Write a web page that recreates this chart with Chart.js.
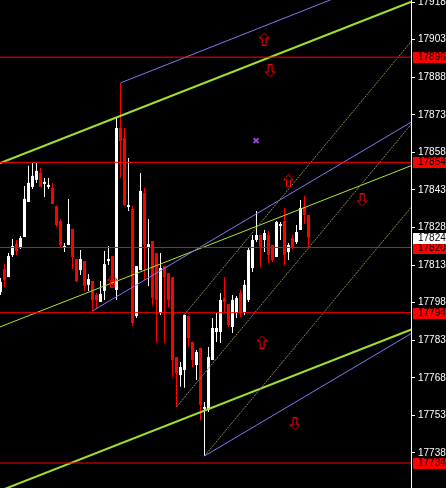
<!DOCTYPE html>
<html>
<head>
<meta charset="utf-8">
<title>Chart</title>
<script src="https://cdn.jsdelivr.net/npm/chart.js@4.4.1/dist/chart.umd.min.js"></script>
<style>
  html, body { margin: 0; padding: 0; background: #000; }
</style>
</head>
<body>
<canvas id="chart" width="446" height="488"></canvas>
<script>
// candles, one per bar index
const opens = [17802.3, 17811.4, 17808.2, 17817.0, 17821.4, 17820.2, 17824.2, 17838.2, 17844.2, 17847.0,
  17849.8, 17845.4, 17844.2, 17843.8, 17836.6, 17830.6, 17819.8, 17821.0, 17827.4, 17815.4,
  17811.0, 17814.6, 17805.1, 17806.6, 17801.1, 17798.3, 17802.7, 17814.6, 17816.6, 17803.1,
  17867.7, 17863.7, 17836.2, 17835.4, 17792.7, 17811.0, 17841.8, 17820.2, 17822.6, 17817.8,
  17793.9, 17812.6, 17809.8, 17808.2, 17776.3, 17769.1, 17771.1, 17792.7, 17782.3, 17773.1,
  17779.9, 17755.6, 17755.2, 17775.1, 17786.3, 17786.3, 17799.9, 17797.5, 17788.3, 17793.9,
  17801.9, 17794.3, 17799.1, 17811.8, 17823.0, 17825.0, 17823.0, 17825.0, 17821.0, 17816.2,
  17828.6, 17830.6, 17818.2, 17823.8, 17822.2, 17827.0, 17836.2, 17833.0];
const highs = [17807.8, 17813.4, 17817.8, 17823.4, 17823.0, 17824.6, 17844.6, 17852.6, 17853.7, 17853.7,
  17851.8, 17847.8, 17847.8, 17845.8, 17836.6, 17831.4, 17821.8, 17839.4, 17827.4, 17815.4,
  17819.0, 17814.6, 17809.4, 17806.6, 17801.9, 17806.6, 17818.6, 17820.6, 17816.6, 17871.7,
  17885.7, 17867.7, 17855.7, 17836.6, 17812.6, 17849.8, 17843.8, 17831.4, 17822.6, 17817.8,
  17817.8, 17812.6, 17809.8, 17808.2, 17776.3, 17774.3, 17793.3, 17792.7, 17782.3, 17779.1,
  17779.9, 17758.4, 17780.3, 17791.9, 17793.9, 17801.9, 17808.2, 17797.5, 17801.1, 17800.7,
  17803.1, 17807.0, 17820.2, 17825.0, 17834.6, 17825.0, 17827.0, 17826.6, 17821.0, 17830.6,
  17830.2, 17835.8, 17821.8, 17825.0, 17829.0, 17839.0, 17840.6, 17833.0];
const lows = [17801.1, 17804.3, 17808.2, 17816.2, 17817.0, 17819.4, 17824.2, 17838.2, 17843.4, 17845.8,
  17844.2, 17840.2, 17843.4, 17837.4, 17828.2, 17820.2, 17818.2, 17821.0, 17811.4, 17806.2,
  17809.0, 17802.7, 17802.7, 17794.7, 17795.5, 17798.3, 17799.1, 17813.0, 17805.1, 17799.1,
  17847.8, 17836.6, 17834.6, 17788.7, 17791.9, 17811.0, 17807.0, 17804.7, 17797.1, 17781.9,
  17793.1, 17781.9, 17796.3, 17768.3, 17756.4, 17764.4, 17764.0, 17780.3, 17772.3, 17767.1,
  17751.2, 17736.8, 17754.4, 17775.1, 17782.3, 17781.9, 17793.9, 17788.3, 17785.9, 17791.9,
  17792.3, 17793.1, 17798.3, 17810.2, 17822.2, 17812.2, 17818.2, 17813.8, 17814.2, 17816.2,
  17823.0, 17813.0, 17815.0, 17819.4, 17821.4, 17827.0, 17829.4, 17820.2];
const closes = [17806.2, 17807.0, 17816.6, 17820.6, 17818.6, 17823.8, 17839.4, 17845.8, 17848.6, 17850.6,
  17844.2, 17846.2, 17845.0, 17837.4, 17829.0, 17821.0, 17820.6, 17829.4, 17816.2, 17806.6,
  17815.4, 17804.7, 17807.4, 17799.1, 17799.1, 17801.5, 17813.4, 17815.4, 17805.8, 17867.7,
  17862.5, 17837.0, 17837.0, 17789.9, 17812.6, 17842.6, 17821.0, 17821.4, 17799.9, 17799.1,
  17811.8, 17808.2, 17799.1, 17775.1, 17769.9, 17772.3, 17793.1, 17783.9, 17775.1, 17778.3,
  17757.2, 17756.4, 17776.3, 17787.9, 17787.9, 17799.1, 17798.3, 17789.1, 17799.1, 17799.9,
  17793.9, 17805.1, 17819.0, 17823.0, 17825.0, 17819.8, 17825.8, 17817.0, 17815.0, 17830.2,
  17829.4, 17817.0, 17821.0, 17820.2, 17826.2, 17835.8, 17833.0, 17824.0];

// price axis
const tickValues = [17918, 17903, 17888, 17873, 17858, 17843, 17828, 17813, 17798, 17783, 17768, 17753, 17738];
const priceMin = 17724.03;
const priceMax = 17918.8;

// horizontal levels and current price
const levels = [17896, 17854, 17820, 17794, 17734];
const currentPrice = 17824;

// blue lines: median from the first point, parallels from the other two
const blueForkIdx = [23, 30, 51];
const blueForkPrice = [17794.7, 17885.7, 17736.8];
// blue line from the spike high
const blueTopIdx = [30, 82.4];
const blueTopPrice = [17885.7, 17918.8];
// olive pitchfork
const oliveForkIdx = [44, 46, 51];
const oliveForkPrice = [17756.4, 17793.3, 17736.8];

// green channel: two points on the upper line + width
const channelIdx = [0, 100];
const channelPrice = [17853.8, 17916.4];
const channelWidth = 130.8;

// arrows and marker
const upArrowIdx = [65.9, 72.0, 65.4, 28.0];
const upArrowPrice = [17903.2, 17846.6, 17782.3, 17806.6];
const downArrowIdx = [67.4, 90.4, 73.6];
const downArrowPrice = [17890.5, 17839.0, 17749.6];
const markIdx = [63.9];
const markPrice = [17862.7];

const colors = opens.map((o, i) => (closes[i] > o ? "#ffffff" : "#ff0000"));

function forkLines(idx, price) {
  const midI = (idx[1] + idx[2]) / 2;
  const midP = (price[1] + price[2]) / 2;
  const slope = (midP - price[0]) / (midI - idx[0]);
  const end = 112;
  return [0, 1, 2].map((k) => [
    { x: idx[k], y: price[k] },
    { x: end, y: price[k] + slope * (end - idx[k]) },
  ]);
}

function ray(idx, price) {
  const slope = (price[1] - price[0]) / (idx[1] - idx[0]);
  const end = 112;
  return [
    { x: idx[0], y: price[0] },
    { x: end, y: price[0] + slope * (end - idx[0]) },
  ];
}

function channelLine(shift) {
  const slope = (channelPrice[1] - channelPrice[0]) / (channelIdx[1] - channelIdx[0]);
  const a = -3, b = 110;
  return [
    { x: a, y: channelPrice[0] + slope * (a - channelIdx[0]) - shift },
    { x: b, y: channelPrice[0] + slope * (b - channelIdx[0]) - shift },
  ];
}

function lineSet(data, color, width, dash) {
  return {
    type: "line",
    data: data,
    borderColor: color,
    borderWidth: width,
    borderDash: dash || [],
    pointRadius: 0,
    tension: 0,
    fill: false,
    clip: 0,
    order: 5,
  };
}

function makeArrow(up) {
  const c = document.createElement("canvas");
  c.width = 11;
  c.height = 13;
  const g = c.getContext("2d");
  g.strokeStyle = "#ff0000";
  g.lineWidth = 1;
  const pts = [[5.5, 0.5], [10.5, 5.5], [7.5, 5.5], [7.5, 12.5], [3.5, 12.5], [3.5, 5.5], [0.5, 5.5]];
  g.beginPath();
  pts.forEach((p, i) => {
    const y = up ? p[1] : 13 - p[1];
    if (i === 0) g.moveTo(p[0], y);
    else g.lineTo(p[0], y);
  });
  g.closePath();
  g.stroke();
  return c;
}

const datasets = [];

// candles
datasets.push({
  type: "bar",
  data: lows.map((l, i) => ({ x: i, y: [l, highs[i]] })),
  backgroundColor: colors,
  barThickness: 1,
  grouped: false,
  minBarLength: 1,
  inflateAmount: 0,
  order: 20,
});
datasets.push({
  type: "bar",
  data: opens.map((o, i) => ({ x: i, y: [o, closes[i]] })),
  backgroundColor: colors,
  barThickness: 3,
  grouped: false,
  minBarLength: 1,
  inflateAmount: 0,
  order: 19,
});

// red levels
levels.forEach((v) => {
  datasets.push(lineSet([{ x: -3, y: v }, { x: 110, y: v }], "#ff0000", 1));
});

// pitchforks
forkLines(oliveForkIdx, oliveForkPrice).forEach((d) => datasets.push(lineSet(d, "#8a8a5c", 1, [2, 1])));
const blue = forkLines(blueForkIdx, blueForkPrice);
datasets.push(lineSet(blue[0], "#7b7bf5", 1));
datasets.push(lineSet(blue[2], "#7b7bf5", 1));
datasets.push(lineSet(ray(blueTopIdx, blueTopPrice), "#7b7bf5", 1));

// green channel
datasets.push(lineSet(channelLine(0), "#a2e02c", 2));
datasets.push(lineSet(channelLine(channelWidth / 2), "#a8e830", 1));
datasets.push(lineSet(channelLine(channelWidth), "#a2e02c", 2));

// arrows
datasets.push({
  type: "line",
  data: upArrowIdx.map((x, i) => ({ x: x, y: upArrowPrice[i] })),
  showLine: false,
  pointStyle: makeArrow(true),
  pointRadius: 6,
  clip: 0,
  order: 1,
});
datasets.push({
  type: "line",
  data: downArrowIdx.map((x, i) => ({ x: x, y: downArrowPrice[i] })),
  showLine: false,
  pointStyle: makeArrow(false),
  pointRadius: 6,
  clip: 0,
  order: 1,
});
datasets.push({
  type: "line",
  data: markIdx.map((x, i) => ({ x: x, y: markPrice[i] })),
  showLine: false,
  pointStyle: "crossRot",
  pointRadius: 3.5,
  pointBorderWidth: 2,
  pointBorderColor: "#a040e0",
  order: 1,
});

const background = {
  id: "background",
  beforeDraw(chart) {
    const ctx = chart.ctx;
    ctx.save();
    ctx.fillStyle = "#000";
    ctx.fillRect(0, 0, chart.width, chart.height);
    ctx.restore();
  },
};

const priceBoxes = {
  id: "priceBoxes",
  afterDraw(chart) {
    const ctx = chart.ctx;
    const ys = chart.scales.y;
    ctx.save();
    ctx.font = '10px "Liberation Sans", Arial, sans-serif';
    ctx.textBaseline = "middle";
    ctx.textAlign = "left";
    const box = (v, bg) => {
      const y = Math.round(ys.getPixelForValue(v));
      ctx.fillStyle = bg;
      ctx.fillRect(413, y - 5, 33, 11);
      ctx.fillStyle = "#000";
      ctx.fillText(String(v), 418, y + 0.5);
    };
    levels.forEach((v) => box(v, "#ff0000"));
    box(currentPrice, "#ffffff");
    ctx.restore();
  },
};

new Chart(document.getElementById("chart"), {
  type: "bar",
  data: { datasets: datasets },
  plugins: [background, priceBoxes],
  options: {
    responsive: false,
    animation: false,
    events: [],
    layout: { padding: 0, autoPadding: false },
    plugins: { legend: { display: false }, tooltip: { enabled: false } },
    scales: {
      x: {
        type: "linear",
        min: -0.125,
        max: 102.625,
        offset: false,
        display: false,
      },
      y: {
        position: "right",
        min: priceMin,
        max: priceMax,
        afterBuildTicks(s) {
          s.ticks = tickValues.map((v) => ({ value: v }));
        },
        afterFit(s) {
          s.width = 35;
          s.paddingTop = 0;
          s.paddingBottom = 0;
        },
        grid: {
          drawOnChartArea: false,
          drawTicks: true,
          tickLength: 4,
          color: "#ffffff",
          tickColor: "#ffffff",
        },
        border: { display: true, color: "#ffffff", width: 1 },
        ticks: {
          color: "#ffffff",
          autoSkip: false,
          padding: 3,
          font: { family: "Liberation Sans", size: 10 },
          callback: (v) => String(v),
        },
      },
    },
  },
});
</script>
</body>
</html>
